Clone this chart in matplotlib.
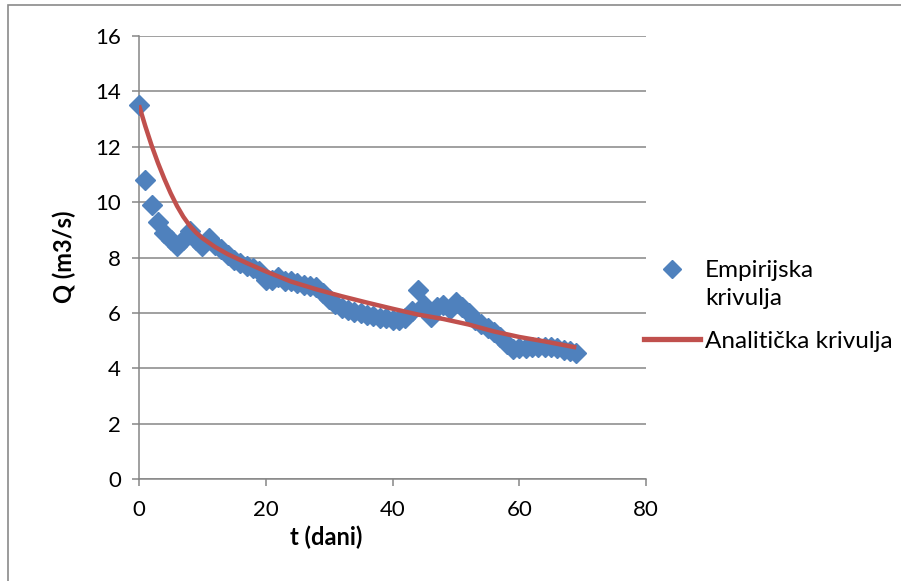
import matplotlib
matplotlib.use("Agg")
import matplotlib.pyplot as plt
from matplotlib.patches import Rectangle
from matplotlib.lines import Line2D

# ---- data ----
t_emp = list(range(0, 70))
q_emp = [13.5, 10.8, 9.9, 9.3, 8.87, 8.63, 8.4, 8.65, 8.95, 8.65,
         8.4, 8.7, 8.45, 8.3, 8.1, 7.92, 7.8, 7.7, 7.62, 7.5,
         7.2, 7.2, 7.3, 7.15, 7.15, 7.07, 7.0, 6.98, 6.92, 6.73,
         6.49, 6.31, 6.18, 6.1, 6.03, 5.98, 5.92, 5.88, 5.83, 5.8,
         5.76, 5.73, 5.8, 6.05, 6.84, 6.3, 5.85, 6.2, 6.3, 6.14,
         6.4, 6.2, 5.98, 5.75, 5.6, 5.45, 5.3, 5.12, 4.87, 4.7,
         4.72, 4.72, 4.78, 4.76, 4.78, 4.75, 4.72, 4.65, 4.62, 4.55]

t_an = [0, 1, 2, 3, 4, 5, 6, 7, 8, 9, 10, 12, 14, 17, 20, 24, 28, 32, 36,
        40, 44, 48, 52, 56, 60, 64, 69]
q_an = [13.5, 12.74, 12.04, 11.41, 10.84, 10.32, 9.86, 9.47, 9.15, 8.9, 8.7,
        8.38, 8.12, 7.8, 7.5, 7.13, 6.85, 6.6, 6.37, 6.15, 5.94, 5.78, 5.58,
        5.33, 5.13, 4.97, 4.75]

x_ticks = [0, 20, 40, 60, 80]
y_ticks = [0, 2, 4, 6, 8, 10, 12, 14, 16]
label_emp = ["Empirijska", "krivulja"]
label_an = "Analitička krivulja"
xlabel = "t (dani)"
ylabel = "Q (m3/s)"

# ---- style ----
FONT = ["Lato", "DejaVu Sans"]
plt.rcParams["font.family"] = FONT
BLUE = "#4F81BD"
RED = "#C0504D"
GRID = "#868686"

W, H = 901, 581
fig = plt.figure(figsize=(W / 100, H / 100), dpi=100)
fig.patch.set_facecolor("white")

# chart border
fig.patches.append(Rectangle((8 / W, 1 - 585 / H), 905 / W, 580 / H,
                             transform=fig.transFigure, fill=False,
                             edgecolor="#8a8a8a", linewidth=1.2))

ax = fig.add_axes([139 / W, 1 - 479 / H, (646 - 139) / W, (479 - 36) / H])
ax.set_xlim(0, 80)
ax.set_ylim(0, 16)
ax.set_xticks(x_ticks)
ax.set_yticks(y_ticks)
ax.yaxis.grid(True, color=GRID, linewidth=1.1)
ax.set_axisbelow(True)
for s in ["top", "right"]:
    ax.spines[s].set_visible(False)
for s in ["left", "bottom"]:
    ax.spines[s].set_color(GRID)
    ax.spines[s].set_linewidth(1.1)
ax.tick_params(axis="both", colors=GRID, length=5, width=1.1, labelsize=16,
               labelcolor="black")
ax.tick_params(axis="y", pad=8)
ax.tick_params(axis="x", pad=10)

ax.plot(t_emp, q_emp, linestyle="none", marker="D", markersize=10.2,
        color=BLUE, zorder=3, clip_on=False)
ax.plot(t_an, q_an, color=RED, linewidth=3.2, zorder=4,
        solid_capstyle="butt", solid_joinstyle="round")

fig.text(326 / W, 1 - 537 / H, xlabel, ha="center", va="center",
         fontsize=17, fontweight="bold")
fig.text(64 / W, 1 - 257 / H, ylabel, ha="center", va="center",
         rotation=90, fontsize=17, fontweight="bold")

handles = [Line2D([], [], linestyle="none", marker="D", markersize=9.5, color=BLUE),
           Line2D([], [], color=RED, linewidth=3.8)]
leg = fig.legend(handles, [label_emp[0], label_an], loc="upper left",
                 bbox_to_anchor=(644 / W, 1 - 260 / H), frameon=False,
                 fontsize=17.5, handlelength=2.3, handletextpad=0.2,
                 labelspacing=2.05, borderpad=0, borderaxespad=0)
fig.canvas.draw()
# second line of the first legend label, aligned under its first line
t0 = leg.get_texts()[0]
bb = t0.get_window_extent()
inv = fig.transFigure.inverted()
x0, y0 = inv.transform((bb.x0, bb.y0))
fig.text(x0, y0 - 28 / H, label_emp[1], ha="left", va="bottom",
         fontsize=17.5)

fig.savefig("out.png", dpi=100, facecolor="white")
